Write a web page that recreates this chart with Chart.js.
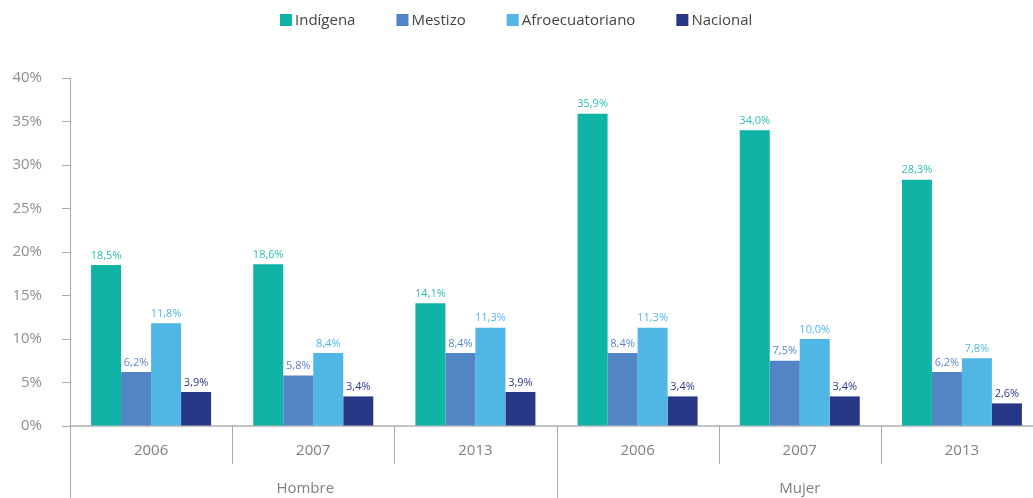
<!DOCTYPE html>
<html>
<head>
<meta charset="utf-8">
<script src="https://cdn.jsdelivr.net/npm/chart.js@4/dist/chart.umd.min.js"></script>
<style>
  html, body { margin: 0; padding: 0; background: #fff; overflow: hidden; }
  /* plot runs slightly past the right edge of the page */
  #wrap { width: 1043px; height: 498px; }
</style>
</head>
<body>
<div id="wrap"><canvas id="chart"></canvas></div>
<script>
// categories: year inside each sex group
const years = ['2006', '2007', '2013', '2006', '2007', '2013'];
const groups = ['Hombre', 'Mujer'];
const groupSize = 3;

// series values (%)
const indigena = [18.5, 18.6, 14.1, 35.9, 34.0, 28.3];
const mestizo = [6.2, 5.8, 8.4, 8.4, 7.5, 6.2];
const afro = [11.8, 8.4, 11.3, 11.3, 10.0, 7.8];
const nacional = [3.9, 3.4, 3.9, 3.4, 3.4, 2.6];

const seriesNames = ['Indígena', 'Mestizo', 'Afroecuatoriano', 'Nacional'];
const barColors = ['#10b4a6', '#5185c6', '#4fb6e6', '#283785'];
const labelColors = ['#2bbdb0', '#5a86c6', '#4fb6e6', '#2a3a86'];

const yTicks = [0, 5, 10, 15, 20, 25, 30, 35, 40];

const FONT = '"Open Sans", "Noto Sans", sans-serif';
const PAGE_WIDTH = 1033;

function fmt(v) {
  return v.toFixed(1).replace('.', ',') + '%';
}

// legend, value labels, and the two-level category axis
const decorations = {
  id: 'decorations',
  afterDatasetsDraw(chart) {
    const ctx = chart.ctx;

    // value labels over each bar
    ctx.save();
    ctx.font = '11px ' + FONT;
    ctx.textAlign = 'center';
    ctx.textBaseline = 'bottom';
    chart.data.datasets.forEach((ds, i) => {
      const meta = chart.getDatasetMeta(i);
      meta.data.forEach((bar, j) => {
        ctx.fillStyle = labelColors[i];
        ctx.fillText(fmt(ds.data[j]), bar.x, bar.y - 4);
      });
    });
    ctx.restore();
  },
  afterDraw(chart) {
    const ctx = chart.ctx;
    const x = chart.scales.x;
    const area = chart.chartArea;
    const step = x.getPixelForValue(1) - x.getPixelForValue(0);
    const edge = i => x.getPixelForValue(i) - step / 2;

    ctx.save();
    ctx.strokeStyle = '#a9a9a9';
    ctx.lineWidth = 1;

    // dividers between years
    for (let i = 1; i < years.length; i++) {
      if (i % groupSize === 0) continue;
      const px = Math.round(edge(i)) + 0.5;
      ctx.beginPath();
      ctx.moveTo(px, area.bottom);
      ctx.lineTo(px, area.bottom + 38);
      ctx.stroke();
    }
    // dividers between sex groups
    for (let g = 0; g <= groups.length; g++) {
      const px = Math.round(edge(g * groupSize)) + 0.5;
      ctx.beginPath();
      ctx.moveTo(px, area.bottom);
      ctx.lineTo(px, chart.height);
      ctx.stroke();
    }

    // group names
    ctx.fillStyle = '#808080';
    ctx.font = '15px ' + FONT;
    ctx.textAlign = 'center';
    ctx.textBaseline = 'middle';
    groups.forEach((name, g) => {
      const left = edge(g * groupSize);
      const right = edge((g + 1) * groupSize);
      ctx.fillText(name, (left + right) / 2 - (g === 0 ? 8 : 0), area.bottom + 63);
    });

    // legend
    ctx.font = '15px ' + FONT;
    ctx.textAlign = 'left';
    const box = 12, gapText = 3, gapItem = 41;
    const widths = seriesNames.map(n => box + gapText + ctx.measureText(n).width);
    const total = widths.reduce((a, b) => a + b, 0) + gapItem * (widths.length - 1);
    let lx = Math.round((PAGE_WIDTH - total) / 2);
    seriesNames.forEach((n, i) => {
      ctx.fillStyle = barColors[i];
      ctx.fillRect(lx, 14, box, box);
      ctx.fillStyle = '#444';
      ctx.fillText(n, lx + box + gapText, 21);
      lx += widths[i] + gapItem;
    });
    ctx.restore();
  }
};

const series = [indigena, mestizo, afro, nacional];

new Chart(document.getElementById('chart'), {
  type: 'bar',
  data: {
    labels: years,
    datasets: series.map((vals, i) => ({
      label: seriesNames[i],
      data: vals,
      backgroundColor: barColors[i],
      borderWidth: 0
    }))
  },
  options: {
    responsive: true,
    maintainAspectRatio: false,
    animation: false,
    layout: { padding: { top: 78, right: 0, left: 0, bottom: 0 } },
    plugins: {
      legend: { display: false },
      tooltip: { enabled: false }
    },
    datasets: {
      bar: { categoryPercentage: 0.74, barPercentage: 1 }
    },
    scales: {
      x: {
        offset: true,
        grid: { display: false, drawTicks: false },
        border: { display: true, color: '#c4c4c4', width: 2 },
        ticks: {
          color: '#808080',
          font: { family: FONT, size: 15 },
          padding: 16,
          maxRotation: 0
        },
        afterFit(scale) { scale.height = 72; }
      },
      y: {
        min: 0,
        max: 40,
        afterBuildTicks(scale) {
          scale.ticks = yTicks.map(v => ({ value: v }));
        },
        grid: { drawOnChartArea: false, drawTicks: true, tickLength: 8, color: '#aaa' },
        border: { display: true, color: '#aaa', width: 1 },
        ticks: {
          color: '#8f8f8f',
          font: { family: FONT, size: 15 },
          padding: 20,
          callback: v => v + '%'
        },
        afterFit(scale) { scale.width = 70; }
      }
    }
  },
  plugins: [decorations]
});
</script>
</body>
</html>
